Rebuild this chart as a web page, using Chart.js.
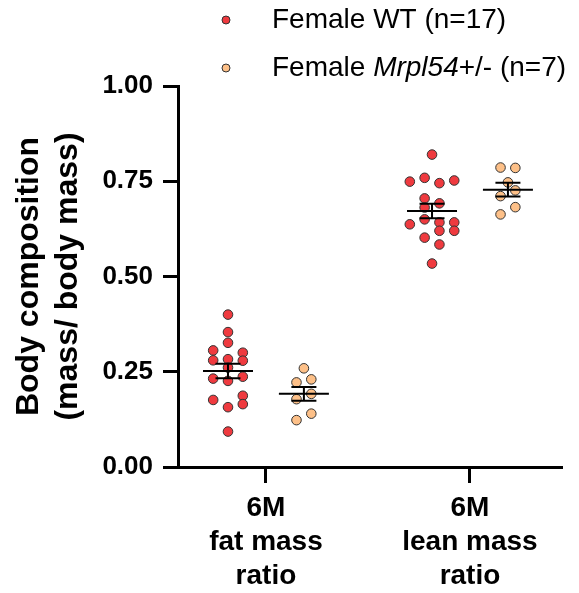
<!DOCTYPE html>
<html><head><meta charset="utf-8">
<script src="https://cdn.jsdelivr.net/npm/chart.js@4/dist/chart.umd.min.js"></script>
<style>html,body{margin:0;padding:0;background:#fff}#wrap{width:579px;height:593px;position:relative}</style>
</head><body><div id="wrap"><canvas id="c" width="579" height="593"></canvas></div>
<script>
// ---- data ----
const categories = [["6M","fat mass","ratio"],["6M","lean mass","ratio"]];
const categoryPos = [1, 2];
const yTicks = [0, 0.25, 0.5, 0.75, 1.0];

const fatWT  = [0.400,0.354,0.326,0.306,0.300,0.280,0.283,0.279,0.261,0.232,0.226,0.237,0.176,0.187,0.165,0.157,0.093];
const fatWTSlot = [0,0,0,-2,2,-2,0,2,0,-2,0,2,-2,2,2,0,0];
const leanWT = [0.820,0.749,0.759,0.745,0.752,0.705,0.692,0.681,0.650,0.637,0.642,0.642,0.620,0.620,0.602,0.584,0.534];
const leanWTSlot = [0,-3,-1,1,3,-1,1,-1,-1,-3,1,3,1,3,-1,1,0];

const fatMut  = [0.259,0.222,0.230,0.192,0.178,0.140,0.123];
const fatMutSlot = [0,-1,1,1,-1,1,-1];
const leanMut = [0.786,0.785,0.747,0.726,0.711,0.682,0.663];
const leanMutSlot = [-1,1,0,1,-1,1,-1];

const meanWT = [0.252, 0.672];
const semWT  = [0.019, 0.019];
const meanMut = [0.192, 0.728];
const semMut  = [0.018, 0.018];

// ---- styling ----
const RED = '#EF3A3F', ORANGE = '#FDC088', EDGE = '#333333';
const GROUP_OFF = 0.186;   // half distance between the two groups in category units
const SLOT_W = 0.0363;     // swarm column half-step in category units
const FONT = '"Liberation Sans", Arial, Helvetica, sans-serif';

function pts(vals, slots, cat, side) {
  return vals.map((v, i) => ({x: categoryPos[cat] + side * GROUP_OFF + slots[i] * SLOT_W, y: v}));
}
const wtData  = pts(fatWT, fatWTSlot, 0, -1).concat(pts(leanWT, leanWTSlot, 1, -1));
const mutData = pts(fatMut, fatMutSlot, 0, 1).concat(pts(leanMut, leanMutSlot, 1, 1));

const summaryPlugin = {
  id: 'summary',
  afterDatasetsDraw(chart) {
    const {ctx, scales: {x, y}} = chart;
    ctx.save();
    ctx.strokeStyle = '#000';
    ctx.lineWidth = 2;
    const groups = [[meanWT, semWT, -1], [meanMut, semMut, 1]];
    groups.forEach(([m, s, side]) => {
      categoryPos.forEach((c, i) => {
        const cx = x.getPixelForValue(c + side * GROUP_OFF);
        const ym = y.getPixelForValue(m[i]);
        const yh = y.getPixelForValue(m[i] + s[i]);
        const yl = y.getPixelForValue(m[i] - s[i]);
        ctx.beginPath();
        ctx.moveTo(cx - 25, ym); ctx.lineTo(cx + 25, ym);
        ctx.moveTo(cx, yh); ctx.lineTo(cx, yl);
        ctx.moveTo(cx - 12.5, yh); ctx.lineTo(cx + 12.5, yh);
        ctx.moveTo(cx - 12.5, yl); ctx.lineTo(cx + 12.5, yl);
        ctx.stroke();
      });
    });
    ctx.restore();
  }
};

const legendPlugin = {
  id: 'customLegend',
  afterDraw(chart) {
    const ctx = chart.ctx;
    ctx.save();
    ctx.textBaseline = 'middle';
    ctx.fillStyle = '#000';
    const rows = [
      {color: RED, y: 20, parts: [['Female WT (n=17)', 'normal']]},
      {color: ORANGE, y: 68, parts: [['Female ', 'normal'], ['Mrpl54', 'italic'], ['+/- (n=7)', 'normal']]}
    ];
    rows.forEach(r => {
      ctx.beginPath();
      ctx.arc(226, r.y, 4, 0, Math.PI * 2);
      ctx.fillStyle = r.color; ctx.fill();
      ctx.lineWidth = 1; ctx.strokeStyle = EDGE; ctx.stroke();
      let tx = 272;
      ctx.fillStyle = '#000';
      r.parts.forEach(([t, st]) => {
        ctx.font = (st === 'italic' ? 'italic ' : '') + '28px ' + FONT;
        ctx.fillText(t, tx, r.y);
        tx += ctx.measureText(t).width;
      });
    });
    ctx.restore();
  }
};

new Chart(document.getElementById('c'), {
  type: 'scatter',
  data: {
    datasets: [
      {label: 'Female WT (n=17)', data: wtData, backgroundColor: RED, borderColor: EDGE, borderWidth: 1, pointRadius: 4.8},
      {label: 'Female Mrpl54+/- (n=7)', data: mutData, backgroundColor: ORANGE, borderColor: EDGE, borderWidth: 1, pointRadius: 4.8}
    ]
  },
  options: {
    responsive: false,
    animation: false,
    events: [],
    layout: {padding: {top: 86, right: 17, left: 0, bottom: 0}},
    plugins: {legend: {display: false}, tooltip: {enabled: false}},
    scales: {
      x: {
        type: 'linear',
        min: 0.569, max: 2.451,
        afterBuildTicks: (s) => { s.ticks = categoryPos.map(v => ({value: v})); },
        afterFit: (s) => { s.height = 126; },
        border: {display: true, color: '#000', width: 3},
        grid: {drawOnChartArea: false, drawTicks: true, tickLength: 16, tickWidth: 3, tickColor: '#000'},
        ticks: {
          color: '#000', padding: 8, maxRotation: 0, autoSkip: false,
          font: {family: FONT, size: 28, weight: 'bold', lineHeight: 1.22},
          callback: (v) => { const i = categoryPos.indexOf(v); return i >= 0 ? categories[i] : ''; }
        }
      },
      y: {
        min: 0, max: 1,
        afterBuildTicks: (s) => { s.ticks = yTicks.map(v => ({value: v})); },
        afterFit: (s) => { s.width = 178; },
        border: {display: true, color: '#000', width: 3},
        grid: {drawOnChartArea: false, drawTicks: true, tickLength: 15, tickWidth: 3, tickColor: '#000'},
        ticks: {
          color: '#000', padding: 10,
          font: {family: FONT, size: 26, weight: 'bold'},
          callback: (v) => Number(v).toFixed(2)
        },
        title: {
          display: true,
          text: ['Body composition', '(mass/ body mass)'],
          color: '#000',
          padding: {top: 10, bottom: 0},
          font: {family: FONT, size: 32, weight: 'bold', lineHeight: 1.22}
        }
      }
    }
  },
  plugins: [summaryPlugin, legendPlugin]
});
</script></body></html>
